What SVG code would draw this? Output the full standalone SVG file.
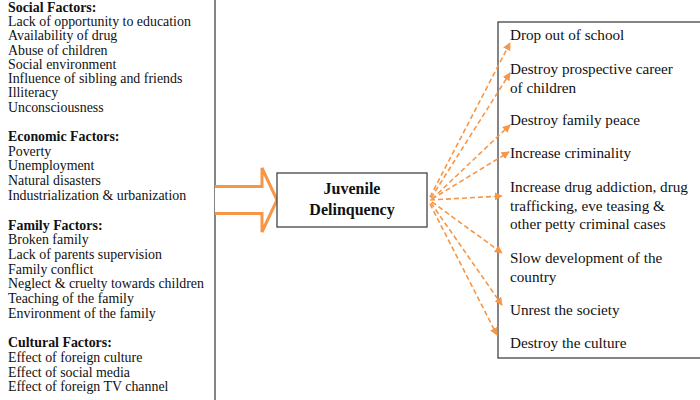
<svg xmlns="http://www.w3.org/2000/svg" width="700" height="400" viewBox="0 0 700 400">
<style>
.t{font-family:"Liberation Serif","Times New Roman",serif;fill:#111;}
.l{font-size:13.9px;}
.r{font-size:15.2px;}
.b{font-weight:bold;}
.box{fill:#fff;stroke:#444;stroke-width:1.3;}
.dash{stroke:#F79646;stroke-width:1.6;stroke-dasharray:5,3;fill:none;marker-end:url(#ah);}
</style>
<defs>
<marker id="ah" viewBox="0 0 10 10" refX="9" refY="5" markerWidth="5" markerHeight="5" orient="auto" markerUnits="strokeWidth">
<path d="M0,0 L10,5 L0,10 Z" fill="#F79646"/>
</marker>
</defs>
<rect width="700" height="400" fill="#fff"/>
<g id="causes">
<rect class="box" x="-10" y="-10" width="225" height="420"/>
<text class="t l">
<tspan x="8" y="11.5" class="b">Social Factors:</tspan>
<tspan x="8" y="25.9">Lack of opportunity to education</tspan>
<tspan x="8" y="40.2">Availability of drug</tspan>
<tspan x="8" y="54.5">Abuse of children</tspan>
<tspan x="8" y="68.8">Social environment</tspan>
<tspan x="8" y="83.1">Influence of sibling and friends</tspan>
<tspan x="8" y="97.4">Illiteracy</tspan>
<tspan x="8" y="111.7">Unconsciousness</tspan>
<tspan x="8" y="141" class="b">Economic Factors:</tspan>
<tspan x="8" y="155.7">Poverty</tspan>
<tspan x="8" y="170.4">Unemployment</tspan>
<tspan x="8" y="185.1">Natural disasters</tspan>
<tspan x="8" y="199.8">Industrialization &amp; urbanization</tspan>
<tspan x="8" y="229.5" class="b">Family Factors:</tspan>
<tspan x="8" y="244.2">Broken family</tspan>
<tspan x="8" y="258.9">Lack of parents supervision</tspan>
<tspan x="8" y="273.5">Family conflict</tspan>
<tspan x="8" y="288.2">Neglect &amp; cruelty towards children</tspan>
<tspan x="8" y="302.9">Teaching of the family</tspan>
<tspan x="8" y="317.5">Environment of the family</tspan>
<tspan x="8" y="347.1" class="b">Cultural Factors:</tspan>
<tspan x="8" y="361.8">Effect of foreign culture</tspan>
<tspan x="8" y="376.5">Effect of social media</tspan>
<tspan x="8" y="391.2">Effect of foreign TV channel</tspan>
</text>
</g>
<g id="block-arrow">
<path d="M215,186.5 L262,186.5 L262,168 L277,200 L262,232 L262,213.5 L215,213.5" fill="#fff" stroke="#F79646" stroke-width="3" stroke-linejoin="miter"/>
</g>
<g id="center">
<rect class="box" x="277" y="173" width="150" height="54"/>
<text class="t b" font-size="16" text-anchor="middle"><tspan x="352" y="193.5">Juvenile</tspan><tspan x="352" y="214.5">Delinquency</tspan></text>
</g>
<g id="effects">
<rect class="box" x="498" y="22" width="220" height="336"/>
<text class="t r">
<tspan x="510" y="40">Drop out of school</tspan>
<tspan x="510" y="74">Destroy prospective career</tspan>
<tspan x="510" y="92.5">of children</tspan>
<tspan x="510" y="125">Destroy family peace</tspan>
<tspan x="510" y="158">Increase criminality</tspan>
<tspan x="510" y="192">Increase drug addiction, drug</tspan>
<tspan x="510" y="210.5">trafficking, eve teasing &amp;</tspan>
<tspan x="510" y="229">other petty criminal cases</tspan>
<tspan x="510" y="263">Slow development of the</tspan>
<tspan x="510" y="281.5">country</tspan>
<tspan x="510" y="315">Unrest the society</tspan>
<tspan x="510" y="348">Destroy the culture</tspan>
</text>
</g>
<g id="connectors">
<line class="dash" x1="430" y1="197" x2="510" y2="43"/>
<line class="dash" x1="431" y1="198" x2="510" y2="73"/>
<line class="dash" x1="432" y1="199" x2="510" y2="125"/>
<line class="dash" x1="432" y1="199" x2="509" y2="152"/>
<line class="dash" x1="430" y1="200" x2="502" y2="196"/>
<line class="dash" x1="432" y1="202" x2="502" y2="253"/>
<line class="dash" x1="431" y1="203" x2="502" y2="305"/>
<line class="dash" x1="430" y1="204" x2="497" y2="335"/>
</g>
</svg>
